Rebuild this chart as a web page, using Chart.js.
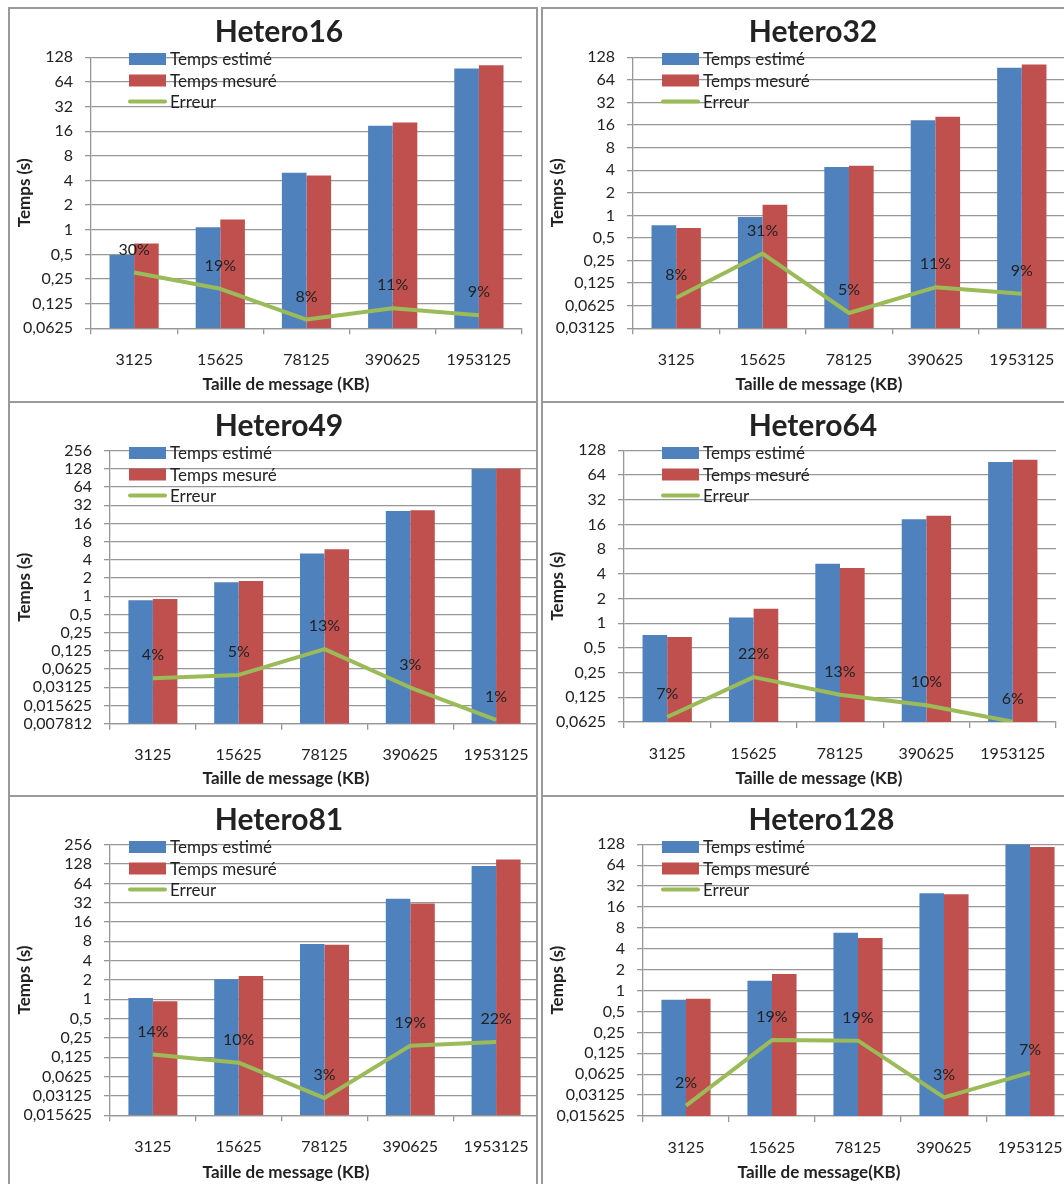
<!DOCTYPE html>
<html>
<head>
<meta charset="utf-8">
<script src="https://cdn.jsdelivr.net/npm/chart.js@4.4.1/dist/chart.umd.min.js"></script>
<style>
  body { margin: 0; background: #fff; width: 1064px; height: 1184px; overflow: hidden; position: relative; }
  .panneau { position: absolute; box-sizing: border-box; overflow: hidden; border-top: 2px solid #9a9a9a; border-left: 2px solid #9a9a9a; }
  .gauche { left: 8px; width: 530px; border-right: 2px solid #9a9a9a; }
  .droite { left: 541px; width: 600px; }
  canvas { display: block; }
</style>
</head>
<body>
<div class="panneau gauche" style="top:7px;height:394px"><canvas id="c16"></canvas></div>
<div class="panneau droite" style="top:7px;height:394px"><canvas id="c32"></canvas></div>
<div class="panneau gauche" style="top:401px;height:394px"><canvas id="c49"></canvas></div>
<div class="panneau droite" style="top:401px;height:394px"><canvas id="c64"></canvas></div>
<div class="panneau gauche" style="top:795px;height:400px"><canvas id="c81"></canvas></div>
<div class="panneau droite" style="top:795px;height:400px"><canvas id="c128"></canvas></div>
<script>
// Données
const categories = ['3125', '15625', '78125', '390625', '1953125'];

const estime16 = [0.49, 1.07, 4.96, 18.6, 93.7];
const mesure16 = [0.68, 1.33, 4.6, 20.5, 102];
const erreur16 = [0.30, 0.19, 0.08, 0.11, 0.09];
const graduations16 = [128, 64, 32, 16, 8, 4, 2, 1, 0.5, 0.25, 0.125, 0.0625];

const estime32 = [0.74, 0.95, 4.4, 18.6, 93];
const mesure32 = [0.68, 1.39, 4.6, 20.7, 103];
const erreur32 = [0.08, 0.31, 0.05, 0.11, 0.09];
const graduations32 = [128, 64, 32, 16, 8, 4, 2, 1, 0.5, 0.25, 0.125, 0.0625, 0.03125];

const estime49 = [0.86, 1.7, 5.1, 25.8, 128];
const mesure49 = [0.9, 1.79, 6.0, 26.5, 129];
const erreur49 = [0.044, 0.05, 0.134, 0.031, 0.009];
const graduations49 = [256, 128, 64, 32, 16, 8, 4, 2, 1, 0.5, 0.25, 0.125, 0.0625, 0.03125, 0.015625, 0.0078125];

const estime64 = [0.72, 1.17, 5.3, 18.5, 92];
const mesure64 = [0.68, 1.5, 4.7, 20.4, 98];
const erreur64 = [0.072, 0.22, 0.134, 0.1, 0.063];
const graduations64 = [128, 64, 32, 16, 8, 4, 2, 1, 0.5, 0.25, 0.125, 0.0625];

const estime81 = [1.05, 2.05, 7.3, 37, 119];
const mesure81 = [0.93, 2.3, 7.1, 31, 151];
const erreur81 = [0.138, 0.103, 0.029, 0.19, 0.216];
const graduations81 = [256, 128, 64, 32, 16, 8, 4, 2, 1, 0.5, 0.25, 0.125, 0.0625, 0.03125, 0.015625];

const estime128 = [0.74, 1.39, 6.8, 25.3, 128];
const mesure128 = [0.76, 1.73, 5.7, 24.4, 117];
const erreur128 = [0.022, 0.194, 0.19, 0.029, 0.066];
const graduations128 = [128, 64, 32, 16, 8, 4, 2, 1, 0.5, 0.25, 0.125, 0.0625, 0.03125, 0.015625];

const couleurs = { estime: '#4F81BD', mesure: '#C0504D', erreur: '#9BBB59', grille: '#979797', texte: '#222222' };
const POLICE = 'Lato, "Open Sans", sans-serif';
const HAUTEUR = 392;

// Position de chaque zone de tracé dans son canvas
const panneaux = [
    { id: 'c16', titre: 'Hetero16', estime: estime16, mesure: mesure16, erreur: erreur16, graduations: graduations16,
      xTitre: 'Taille de message (KB)', largeur: 538, gauche: 81, droite: 512, haut: 48.3, bas: 319.3 },
    { id: 'c32', titre: 'Hetero32', estime: estime32, mesure: mesure32, erreur: erreur32, graduations: graduations32,
      xTitre: 'Taille de message (KB)', largeur: 540, gauche: 90, droite: 522, haut: 48.3, bas: 319.3 },
    { id: 'c49', titre: 'Hetero49', estime: estime49, mesure: mesure49, erreur: erreur49, graduations: graduations49,
      xTitre: 'Taille de message (KB)', largeur: 538, gauche: 100, droite: 529, haut: 47.7, bas: 320.7 },
    { id: 'c64', titre: 'Hetero64', estime: estime64, mesure: mesure64, erreur: erreur64, graduations: graduations64,
      xTitre: 'Taille de message (KB)', largeur: 540, gauche: 81, droite: 513, haut: 47.3, bas: 319 },
    { id: 'c81', titre: 'Hetero81', estime: estime81, mesure: mesure81, erreur: erreur81, graduations: graduations81,
      xTitre: 'Taille de message (KB)', largeur: 538, gauche: 100, droite: 529, haut: 47.7, bas: 318.3 },
    { id: 'c128', titre: 'Hetero128', estime: estime128, mesure: mesure128, erreur: erreur128, graduations: graduations128,
      xTitre: 'Taille de message(KB)', largeur: 557, gauche: 100, droite: 530, haut: 47.3, bas: 319 }
];

function formatGraduation(v) {
    return String(v).replace('.', ',').slice(0, 8);
}

function formatPourcent(v) {
    return Math.round(v * 100) + '%';
}

// Étiquettes de l'erreur, légende et titre de l'axe horizontal
const habillage = {
    id: 'habillage',
    afterDatasetsDraw(chart, args, opts) {
        const ctx = chart.ctx;
        const ds = chart.data.datasets;
        ctx.save();
        ctx.fillStyle = couleurs.texte;
        ctx.textBaseline = 'middle';

        ctx.font = '16px ' + POLICE;
        ctx.textAlign = 'center';
        chart.getDatasetMeta(2).data.forEach((pt, i) => {
            ctx.fillText(formatPourcent(ds[2].data[i]), pt.x, pt.y - 23);
        });

        const lx = 119;
        const ly = [50, 71.5, 92.5];
        ds.forEach((d, i) => {
            if (d.type === 'line') {
                ctx.strokeStyle = d.borderColor;
                ctx.lineWidth = 4;
                ctx.lineCap = 'round';
                ctx.beginPath();
                ctx.moveTo(lx + 1, ly[i]);
                ctx.lineTo(lx + 36, ly[i]);
                ctx.stroke();
            } else {
                ctx.fillStyle = d.backgroundColor;
                ctx.fillRect(lx, ly[i] - 6, 37, 12);
            }
            ctx.fillStyle = couleurs.texte;
            ctx.font = '17px ' + POLICE;
            ctx.textAlign = 'left';
            ctx.fillText(d.label, lx + 41, ly[i] + 1);
        });

        ctx.font = 'bold 17px ' + POLICE;
        ctx.textAlign = 'center';
        ctx.fillText(opts.xTitre, 276, 376);
        ctx.restore();
    }
};

panneaux.forEach(p => {
    const canvas = document.getElementById(p.id);
    canvas.width = p.largeur;
    canvas.height = HAUTEUR;
    canvas.style.width = p.largeur + 'px';
    canvas.style.height = HAUTEUR + 'px';

    new Chart(canvas, {
        type: 'bar',
        data: {
            labels: categories,
            datasets: [
                { label: 'Temps estimé', data: p.estime, backgroundColor: couleurs.estime, yAxisID: 'y',
                  categoryPercentage: 0.571, barPercentage: 1, order: 1 },
                { label: 'Temps mesuré', data: p.mesure, backgroundColor: couleurs.mesure, yAxisID: 'y',
                  categoryPercentage: 0.571, barPercentage: 1, order: 1 },
                { type: 'line', label: 'Erreur', data: p.erreur, yAxisID: 'y', borderColor: couleurs.erreur,
                  backgroundColor: couleurs.erreur, borderWidth: 4, pointRadius: 0, tension: 0,
                  borderJoinStyle: 'round', order: 0 }
            ]
        },
        options: {
            responsive: false,
            animation: false,
            devicePixelRatio: 1,
            layout: { padding: 0 },
            plugins: {
                legend: { display: false },
                tooltip: { enabled: false },
                title: {
                    display: true,
                    text: p.titre,
                    color: couleurs.texte,
                    font: { family: POLICE, size: 30, weight: 'bold', lineHeight: 1.2 },
                    padding: { top: 5.5, bottom: p.haut - 36 - 5.5 }
                },
                habillage: { xTitre: p.xTitre }
            },
            scales: {
                x: {
                    offset: true,
                    afterFit: s => { s.height = HAUTEUR - p.bas; },
                    ticks: { padding: 16, color: couleurs.texte, font: { family: POLICE, size: 16 }, maxRotation: 0, autoSkip: false },
                    grid: { offset: true, drawOnChartArea: false, tickLength: 6, color: couleurs.grille, lineWidth: 1.3 },
                    border: { color: couleurs.grille, width: 1.3 }
                },
                y: {
                    type: 'logarithmic',
                    min: p.graduations[p.graduations.length - 1],
                    max: p.graduations[0],
                    afterBuildTicks: s => { s.ticks = p.graduations.map(v => ({ value: v })); },
                    afterFit: s => { s.width = p.gauche; },
                    ticks: { autoSkip: false, padding: 12, color: couleurs.texte, font: { family: POLICE, size: 16 },
                             callback: v => formatGraduation(v) },
                    grid: { color: couleurs.grille, lineWidth: 1.3, tickLength: 6 },
                    border: { color: couleurs.grille, width: 1.3 },
                    title: { display: true, text: 'Temps (s)', color: couleurs.texte,
                             font: { family: POLICE, size: 17, weight: 'bold' }, padding: { top: 4, bottom: 0 } }
                },
                marge: {
                    type: 'linear',
                    position: 'right',
                    afterFit: s => { s.width = p.largeur - p.droite; },
                    ticks: { display: false },
                    grid: { display: false },
                    border: { display: false }
                }
            }
        },
        plugins: [habillage]
    });
});
</script>
</body>
</html>
